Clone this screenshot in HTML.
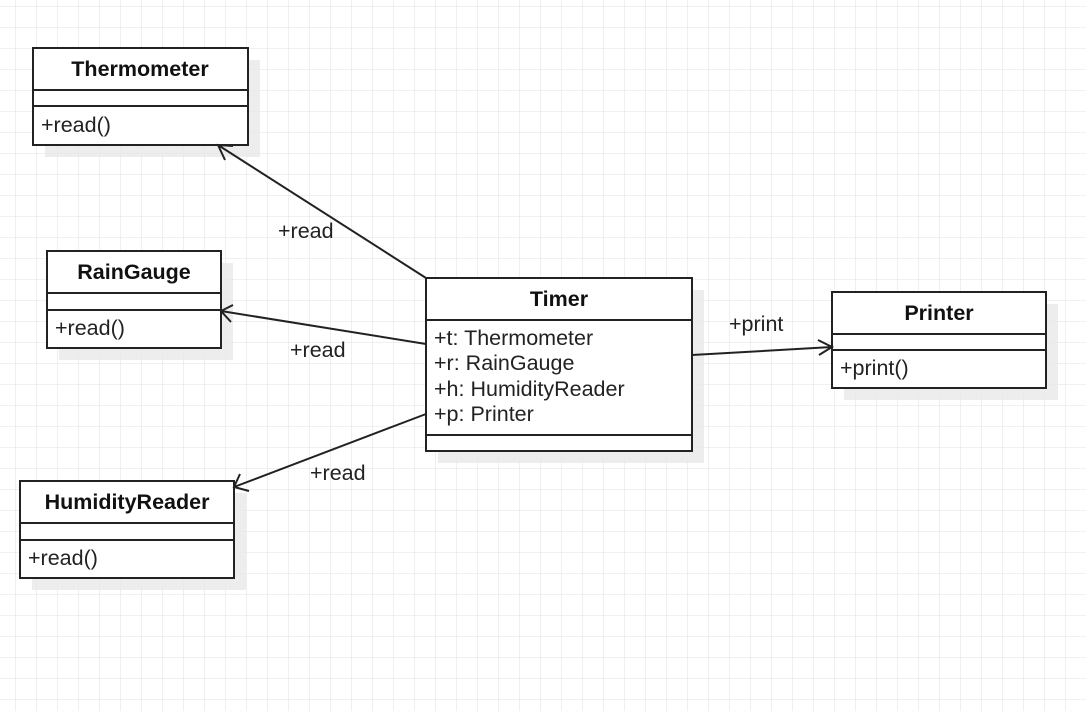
<!DOCTYPE html>
<html><head><style>body{margin:0;background:#fff}svg{display:block}</style></head><body>
<svg width="1086" height="711" xmlns="http://www.w3.org/2000/svg" font-family="Liberation Sans, Arial, sans-serif">
<defs><pattern id="g" x="15" y="6" width="21" height="21" patternUnits="userSpaceOnUse"><path d="M0 0V21M0 0H21" stroke="#e6e6e6" stroke-width="1.3" fill="none"/></pattern></defs>
<rect width="1086" height="711" fill="url(#g)"/>
<g fill="#e9e9e9" opacity="0.8">
<rect x="45" y="60" width="215" height="97"/>
<rect x="59" y="263" width="174" height="97"/>
<rect x="32" y="493" width="214" height="97"/>
<rect x="438" y="290" width="266" height="173"/>
<rect x="844" y="304" width="214" height="96"/>
</g>
<g fill="#fff" stroke="#222" stroke-width="2">
<rect x="33" y="48" width="215" height="97"/><path d="M33 90H248M33 106H248"/>
<rect x="47" y="251" width="174" height="97"/><path d="M47 293H221M47 310H221"/>
<rect x="20" y="481" width="214" height="97"/><path d="M20 523H234M20 540H234"/>
<rect x="426" y="278" width="266" height="173"/><path d="M426 320H692M426 435H692"/>
<rect x="832" y="292" width="214" height="96"/><path d="M832 334H1046M832 350H1046"/>
</g>
<g stroke="#222" stroke-width="2" fill="none">
<path d="M426 278L218 145M233 146L218 145L225 160"/>
<path d="M426 344L221 311M233 305L221 311L231 322"/>
<path d="M426 414L234 487M240 474L234 487L249 491"/>
<path d="M692 355L832 347M818 340L832 347L819 355"/>
</g>
<g font-size="21.5" font-weight="bold" text-anchor="middle" fill="#111">
<text x="140" y="76">Thermometer</text>
<text x="134" y="279">RainGauge</text>
<text x="127" y="509">HumidityReader</text>
<text x="559" y="306">Timer</text>
<text x="939" y="320">Printer</text>
</g>
<g font-size="21.5" fill="#222">
<text x="41" y="132">+read()</text>
<text x="55" y="335">+read()</text>
<text x="28" y="565">+read()</text>
<text x="840" y="375">+print()</text>
<text x="434" y="345">+t: Thermometer</text>
<text x="434" y="370">+r: RainGauge</text>
<text x="434" y="396">+h: HumidityReader</text>
<text x="434" y="421">+p: Printer</text>
<text x="278" y="238">+read</text>
<text x="290" y="357">+read</text>
<text x="310" y="480">+read</text>
<text x="729" y="331">+print</text>
</g>
</svg>
</body></html>
